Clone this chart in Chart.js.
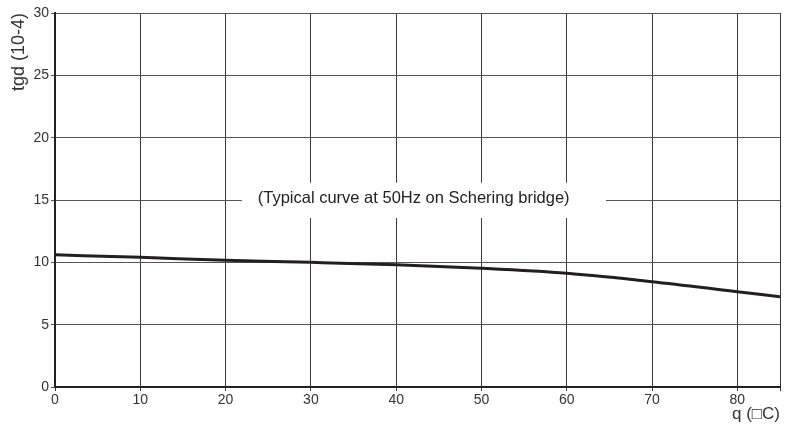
<!DOCTYPE html>
<html>
<head>
<meta charset="utf-8">
<script src="https://cdn.jsdelivr.net/npm/chart.js@4/dist/chart.umd.min.js"></script>
<style>
  html, body { margin: 0; padding: 0; background: #fff; }
  #wrap { width: 786px; height: 428px; }
</style>
</head>
<body>
<div id="wrap"><canvas id="tgChart"></canvas></div>
<script>
// temperature (x) and loss factor tg d in 10^-4 (y)
var temps = [0, 10, 20, 30, 40, 50, 60, 70, 80, 85];
var tgd = [10.6, 10.4, 10.17, 10.0, 9.8, 9.52, 9.12, 8.45, 7.64, 7.24];
var xTicks = [0, 10, 20, 30, 40, 50, 60, 70, 80];
var yTicks = [0, 5, 10, 15, 20, 25, 30];
var xMax = 85;
var noteText = '(Typical curve at 50Hz on Schering bridge)';

var FONT = '"Liberation Sans", Arial, sans-serif';

var points = [];
for (var i = 0; i < temps.length; i++) {
  points.push({x: temps[i], y: tgd[i]});
}

// white box + caption over the 15 grid line
var notePlugin = {
  id: 'note',
  beforeDatasetsDraw: function(chart) {
    var ctx = chart.ctx;
    var xs = chart.scales.x, ys = chart.scales.y;
    var x1 = xs.getPixelForValue(21.9), x2 = xs.getPixelForValue(64.6);
    var y1 = ys.getPixelForValue(16.4), y2 = ys.getPixelForValue(13.55);
    ctx.save();
    ctx.fillStyle = '#fff';
    ctx.fillRect(x1, y1, x2 - x1, y2 - y1);
    ctx.fillStyle = '#222';
    ctx.font = '16.5px ' + FONT;
    ctx.textAlign = 'center';
    ctx.textBaseline = 'middle';
    ctx.fillText(noteText, xs.getPixelForValue(42.05), ys.getPixelForValue(15.1));
    ctx.restore();
  }
};

var ctx = document.getElementById('tgChart').getContext('2d');
new Chart(ctx, {
  type: 'line',
  data: {
    datasets: [{
      data: points,
      borderColor: '#231f20',
      borderWidth: 3,
      pointRadius: 0,
      fill: false,
      tension: 0.3,
      cubicInterpolationMode: 'monotone'
    }]
  },
  options: {
    responsive: true,
    maintainAspectRatio: false,
    animation: false,
    layout: {padding: {top: 13, right: 6, left: 0, bottom: 0}},
    plugins: {legend: {display: false}, tooltip: {enabled: false}},
    scales: {
      x: {
        type: 'linear',
        min: 0,
        max: xMax,
        afterBuildTicks: function(scale) {
          scale.ticks = xTicks.concat([xMax]).map(function(v) { return {value: v}; });
        },
        afterFit: function(scale) { scale.height = 41; },
        ticks: {
          color: '#333',
          font: {family: FONT, size: 14},
          padding: 1,
          maxRotation: 0,
          callback: function(v) { return xTicks.indexOf(v) >= 0 ? String(v) : ''; }
        },
        grid: {color: '#3a3a3a', lineWidth: 1, tickLength: 4},
        border: {color: '#222', width: 2},
        title: {
          display: true,
          text: 'q (\u25A1C)',
          align: 'end',
          color: '#333',
          font: {family: FONT, size: 17},
          padding: {top: 0, bottom: 3}
        }
      },
      y: {
        type: 'linear',
        min: 0,
        max: 30,
        afterBuildTicks: function(scale) {
          scale.ticks = yTicks.map(function(v) { return {value: v}; });
        },
        afterFit: function(scale) { scale.width = 55; },
        ticks: {
          color: '#333',
          font: {family: FONT, size: 14},
          padding: 2
        },
        grid: {color: '#555', lineWidth: 1, tickLength: 4},
        border: {color: '#222', width: 2},
        title: {
          display: true,
          text: 'tgd (10-4)',
          align: 'end',
          color: '#333',
          font: {family: FONT, size: 18},
          padding: {top: 8, bottom: 8}
        }
      }
    }
  },
  plugins: [notePlugin]
});
</script>
</body>
</html>
